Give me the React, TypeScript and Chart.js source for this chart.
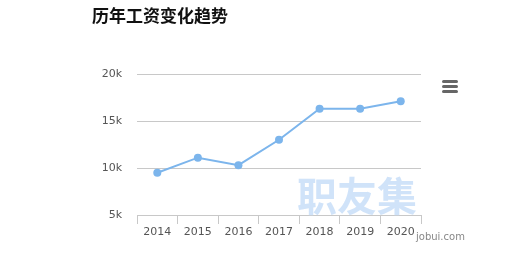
import React, { useEffect, useRef } from "react";
import { Chart, registerables } from "chart.js";

Chart.register(...registerables);

const title = "历年工资变化趋势";
const years = ["2014", "2015", "2016", "2017", "2018", "2019", "2020"];
const salaries = [9500, 11100, 10300, 13000, 16300, 16300, 17100];
const yTicks = [5000, 10000, 15000, 20000];
const watermark = "职友集";
const siteLabel = "jobui.com";

const W = 532;
const H = 271;

const overlayPlugin = {
  id: "overlay",
  beforeDatasetsDraw(chart: any) {
    const ctx = chart.ctx;
    ctx.save();
    ctx.fillStyle = "rgba(200,222,248,0.85)";
    ctx.font = 'bold 40px "Noto Sans CJK SC"';
    ctx.textAlign = "left";
    ctx.textBaseline = "middle";
    ctx.fillText(watermark, 297, 196);
    ctx.restore();
  },
  afterDraw(chart: any) {
    const ctx = chart.ctx;
    ctx.save();
    // title
    ctx.fillStyle = "#111";
    ctx.font = 'bold 17px "Noto Sans CJK SC"';
    ctx.textAlign = "left";
    ctx.textBaseline = "middle";
    ctx.fillText(title, 92, 16);
    // site label
    ctx.fillStyle = "#888";
    ctx.font = '10px "DejaVu Sans"';
    ctx.fillText(siteLabel, 416, 237);
    // menu icon
    ctx.strokeStyle = "#666";
    ctx.lineWidth = 3;
    ctx.lineCap = "round";
    for (let i = 0; i < 3; i++) {
      const y = 81.5 + i * 5;
      ctx.beginPath();
      ctx.moveTo(443.5, y);
      ctx.lineTo(456.5, y);
      ctx.stroke();
    }
    ctx.restore();
  },
};

export default function App() {
  const ref = useRef<HTMLCanvasElement>(null);
  useEffect(() => {
    if (!ref.current) return;
    const chart = new Chart(ref.current, {
      type: "line",
      data: {
        labels: years,
        datasets: [
          {
            data: salaries,
            borderColor: "#7cb5ec",
            backgroundColor: "#7cb5ec",
            borderWidth: 2,
            pointRadius: 4,
            pointBorderWidth: 0,
            pointBackgroundColor: "#7cb5ec",
            tension: 0,
          },
        ],
      },
      options: {
        animation: false,
        responsive: false,
        maintainAspectRatio: false,
        layout: { padding: { left: 0, top: 74, right: 111, bottom: 0 } },
        plugins: {
          legend: { display: false },
          tooltip: { enabled: false },
        },
        scales: {
          x: {
            offset: true,
            grid: {
              display: true,
              offset: true,
              drawOnChartArea: false,
              drawTicks: true,
              tickLength: 9,
              color: "#c8c8c8",
            },
            border: { display: true, color: "#c8c8c8", width: 1 },
            ticks: {
              color: "#555",
              font: { family: "DejaVu Sans", size: 11 },
              padding: 2,
              maxRotation: 0,
            },
            afterFit: (s: any) => {
              s.height = H - 215;
            },
          },
          y: {
            min: 5000,
            max: 20000,
            afterBuildTicks: (s: any) => {
              s.ticks = yTicks.map((v) => ({ value: v }));
            },
            grid: {
              color: "#c8c8c8",
              drawTicks: false,
            },
            border: { display: false },
            ticks: {
              color: "#555",
              font: { family: "DejaVu Sans", size: 11 },
              padding: 15,
              callback: (v: any) => `${Number(v) / 1000}k`,
            },
            afterFit: (s: any) => {
              s.width = 137;
            },
          },
        },
      },
      plugins: [overlayPlugin],
    });
    return () => chart.destroy();
  }, []);
  return (
    <div style={{ position: "fixed", left: 0, top: 0, width: W, height: H, background: "#fff" }}>
      <canvas ref={ref} width={W} height={H} style={{ width: W, height: H, display: "block" }} />
    </div>
  );
}
